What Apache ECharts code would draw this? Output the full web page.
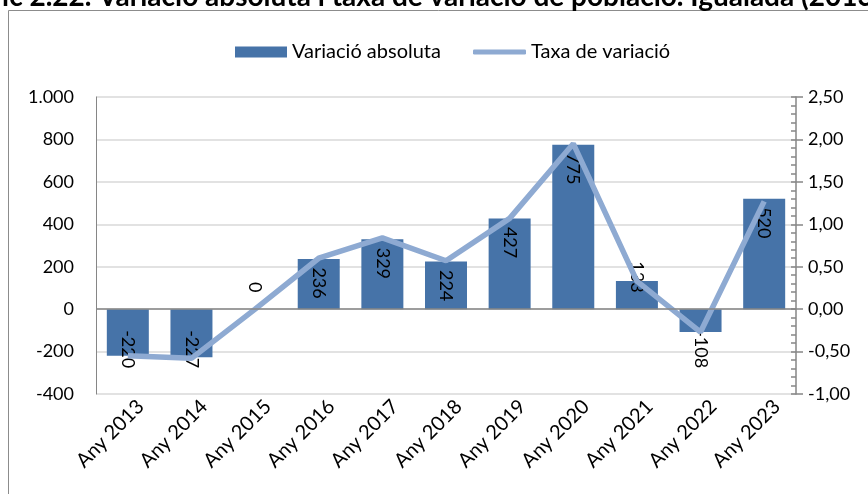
<html>
<head>
<meta charset="utf-8">
<script src="https://cdn.jsdelivr.net/npm/echarts@6/dist/echarts.min.js"></script>
<style>
  body { margin: 0; background: #fff; }
  #main { width: 868px; height: 494px; }
</style>
</head>
<body>
<div id="main"></div>
<script>
var years = ['Any 2013', 'Any 2014', 'Any 2015', 'Any 2016', 'Any 2017', 'Any 2018',
             'Any 2019', 'Any 2020', 'Any 2021', 'Any 2022', 'Any 2023'];
// variació absoluta (habitants)
var absVals = [-220, -227, 0, 236, 329, 224, 427, 775, 133, -108, 520];
// taxa de variació (%)
var rateVals = [-0.55, -0.58, 0.00, 0.60, 0.84, 0.57, 1.07, 1.95, 0.33, -0.27, 1.27];
var leftTicks = { min: -400, max: 1000, step: 200 };
var rightTicks = { min: -1, max: 2.5, step: 0.5 };

var font = 'Lato, "Open Sans", sans-serif';
var axisGray = '#868686';
var gridGray = '#d9d9d9';

// label placement depends on sign / size of bar (rotated text, like Excel)
function labelFor(v) {
  if (v === 0) return { position: 'top', distance: 22 };
  if (v < 0) return { position: 'insideTop', distance: 40 };
  if (v < 150) return { position: 'top', distance: 4 };
  return { position: 'insideTop', distance: 24 };
}

var barData = absVals.map(function (v) {
  return { value: v, label: labelFor(v) };
});

function fmtThousands(v) {
  var s = String(Math.abs(v)).replace(/\B(?=(\d{3})+(?!\d))/g, '.');
  return (v < 0 ? '-' : '') + s;
}

var myChart = echarts.init(document.getElementById('main'));
var option = {
  animation: false,
  textStyle: { fontFamily: font },
  graphic: [
    { type: 'rect', shape: { x: 8.5, y: 10.5, width: 900, height: 600 },
      style: { fill: 'none', stroke: '#8c8c8c', lineWidth: 1 }, z: -1 },
    { type: 'text', x: -52, y: -17.5,
      style: { text: 'Gràfic 2.22. Variació absoluta i taxa de variació de població. Igualada (2013-2023)',
               font: 'bold 28px ' + font, fill: '#000' } }
  ],
  legend: [
    {
      top: 37, left: 230,
      itemWidth: 52, itemHeight: 11,
      textStyle: { fontSize: 20, color: '#000', fontFamily: font },
      data: [{ name: 'Variació absoluta', icon: 'rect' }]
    },
    {
      top: 37, left: 468,
      itemWidth: 53, itemHeight: 5,
      textStyle: { fontSize: 20, color: '#000', fontFamily: font },
      data: [{ name: 'Taxa de variació', icon: 'roundRect' }]
    }
  ],
  grid: { left: 96, right: 72, top: 97, bottom: 100 },
  xAxis: {
    type: 'category',
    data: years,
    axisLine: { show: false },
    axisTick: { show: false },
    axisLabel: { rotate: 45, fontSize: 20, color: '#000', margin: 22, interval: 0,
                 padding: [0, -18, 0, 0] }
  },
  yAxis: [
    {
      type: 'value',
      min: leftTicks.min, max: leftTicks.max, interval: leftTicks.step,
      axisLine: { show: true, lineStyle: { color: axisGray } },
      axisTick: { show: false },
      splitLine: { lineStyle: { color: gridGray, width: 1.5 } },
      axisLabel: { fontSize: 18, color: '#000', margin: 22, formatter: fmtThousands }
    },
    {
      type: 'value',
      position: 'right',
      min: rightTicks.min, max: rightTicks.max, interval: rightTicks.step,
      axisLine: { show: true, lineStyle: { color: axisGray, width: 1.5 } },
      axisTick: { show: true, length: 7, lineStyle: { color: axisGray, width: 1.5 } },
      splitLine: { show: false },
      axisLabel: { fontSize: 18, color: '#000', margin: 12,
                   formatter: function (v) { return v.toFixed(2).replace('.', ','); } }
    },
    {
      type: 'value',
      position: 'right',
      min: rightTicks.min, max: rightTicks.max, interval: rightTicks.step,
      axisLine: { show: false },
      axisTick: { show: true, inside: true, length: 5, lineStyle: { color: axisGray, width: 1.5 } },
      minorTick: { show: true, splitNumber: 5, length: 5, lineStyle: { color: axisGray, width: 1.5 } },
      splitLine: { show: false },
      axisLabel: { show: false }
    }
  ],
  series: [
    {
      name: 'Variació absoluta',
      type: 'bar',
      yAxisIndex: 0,
      data: barData,
      barWidth: 42,
      itemStyle: { color: '#4673a8' },
      label: {
        show: true,
        rotate: -90,
        align: 'center',
        verticalAlign: 'middle',
        fontSize: 18,
        color: '#000',
        fontFamily: font
      },
      markLine: {
        silent: true,
        symbol: 'none',
        label: { show: false },
        lineStyle: { color: axisGray, type: 'solid', width: 1.5 },
        data: [{ yAxis: 0 }]
      }
    },
    {
      name: 'Taxa de variació',
      type: 'line',
      yAxisIndex: 1,
      data: rateVals,
      symbol: 'none',
      z: 3,
      lineStyle: { color: '#8eaad2', width: 5.5 },
      itemStyle: { color: '#8eaad2' }
    }
  ]
};
myChart.setOption(option);
</script>
</body>
</html>
